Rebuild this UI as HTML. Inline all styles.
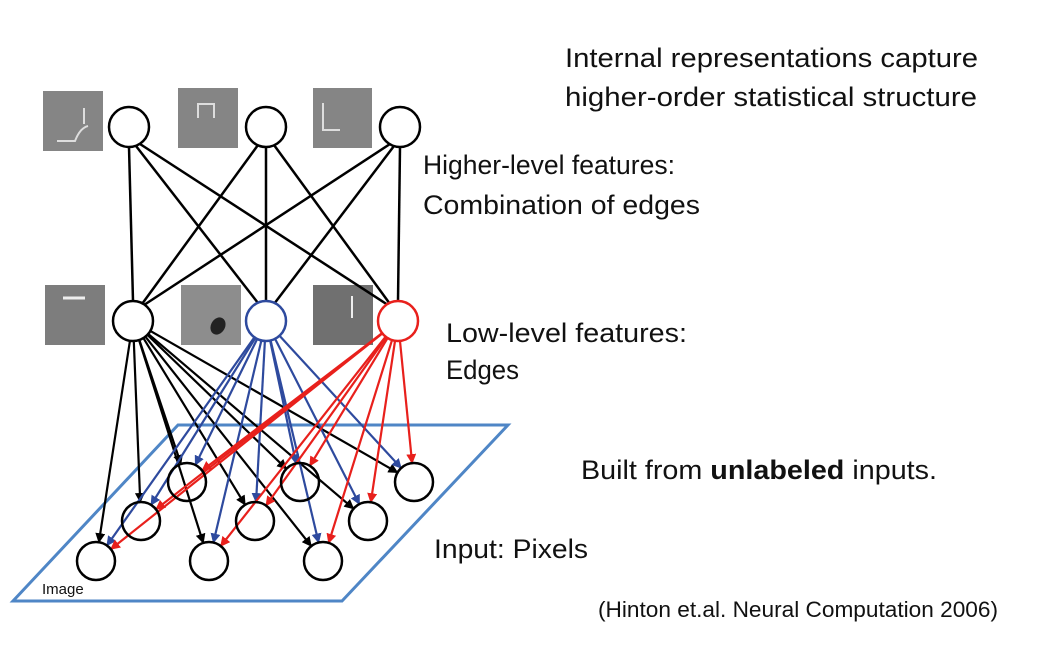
<!DOCTYPE html>
<html><head><meta charset="utf-8"><style>
html,body{margin:0;padding:0;background:#fff;}
svg{display:block}
text{font-family:"Liberation Sans",sans-serif;fill:#111}
</style></head><body>
<svg width="1044" height="664" viewBox="0 0 1044 664" xmlns="http://www.w3.org/2000/svg">
<defs>
<marker id="ak" markerWidth="10" markerHeight="10" refX="9" refY="5" orient="auto" markerUnits="userSpaceOnUse"><path d="M0,0 L10,5 L0,10 z" fill="#000"/></marker>
<marker id="ab" markerWidth="10" markerHeight="10" refX="9" refY="5" orient="auto" markerUnits="userSpaceOnUse"><path d="M0,0 L10,5 L0,10 z" fill="#2e4a9e"/></marker>
<marker id="ar" markerWidth="10" markerHeight="10" refX="9" refY="5" orient="auto" markerUnits="userSpaceOnUse"><path d="M0,0 L10,5 L0,10 z" fill="#e8201c"/></marker>
</defs>
<polygon points="178,425 508,425 342,601 13,601" fill="none" stroke="#4f86c6" stroke-width="3"/>
<text x="42" y="594" font-size="15">Image</text>
<g>
<rect x="43" y="91" width="60" height="60" fill="#858585"/><path d="M57,141 L75,141 Q80,128 88,126 M84,108 L84,124" stroke="#ddd" stroke-width="2" fill="none"/>
<rect x="178" y="88" width="60" height="60" fill="#858585"/><path d="M198,118 L198,104 L214,104 L214,118" stroke="#ddd" stroke-width="2" fill="none"/>
<rect x="313" y="88" width="59" height="60" fill="#858585"/><path d="M323,103 L323,130 L340,130" stroke="#ddd" stroke-width="2" fill="none"/>
<rect x="45" y="285" width="60" height="60" fill="#7d7d7d"/><path d="M63,298 L85,298" stroke="#eee" stroke-width="3"/>
<rect x="181" y="285" width="60" height="60" fill="#8d8d8d"/><ellipse cx="218" cy="326" rx="7" ry="9" fill="#222" transform="rotate(30 218 326)"/>
<rect x="313" y="285" width="60" height="60" fill="#707070"/><path d="M352,296 L352,318" stroke="#eee" stroke-width="2"/>
</g>
<g stroke="#000" stroke-width="2.5">
<line x1="129" y1="147" x2="133" y2="301"/><line x1="136" y1="146" x2="258" y2="303"/><line x1="140" y1="144" x2="388" y2="305"/>
<line x1="258" y1="145" x2="142" y2="304"/><line x1="266" y1="147" x2="266" y2="301"/><line x1="274" y1="145" x2="390" y2="304"/>
<line x1="390" y1="144" x2="144" y2="305"/><line x1="394" y1="146" x2="274" y2="304"/><line x1="400" y1="147" x2="398" y2="301"/>
</g>
<g id="arrows"></g>
<g fill="#fff" stroke-width="2.5">
<circle cx="129" cy="127" r="20" stroke="#000"/><circle cx="266" cy="127" r="20" stroke="#000"/><circle cx="400" cy="127" r="20" stroke="#000"/>
<circle cx="133" cy="321" r="20" stroke="#000"/><circle cx="266" cy="321" r="20" stroke="#2e4a9e"/><circle cx="398" cy="321" r="20" stroke="#e8201c"/>
</g>
<g fill="none" stroke="#000" stroke-width="2.5">
<circle cx="187" cy="482" r="19"/><circle cx="300" cy="482" r="19"/><circle cx="414" cy="482" r="19"/>
<circle cx="141" cy="521" r="19"/><circle cx="255" cy="521" r="19"/><circle cx="368" cy="521" r="19"/>
<circle cx="96" cy="561" r="19"/><circle cx="209" cy="561" r="19"/><circle cx="323" cy="561" r="19"/>
</g>
<g font-size="27">
<text x="565" y="67" textLength="413" lengthAdjust="spacingAndGlyphs">Internal representations capture</text>
<text x="565" y="106" textLength="412" lengthAdjust="spacingAndGlyphs">higher-order statistical structure</text>
<text x="423" y="174" textLength="252" lengthAdjust="spacingAndGlyphs">Higher-level features:</text>
<text x="423" y="214" textLength="277" lengthAdjust="spacingAndGlyphs">Combination of edges</text>
<text x="446" y="342" textLength="241" lengthAdjust="spacingAndGlyphs">Low-level features:</text>
<text x="446" y="379" textLength="73" lengthAdjust="spacingAndGlyphs">Edges</text>
<text x="581" y="479" textLength="356" lengthAdjust="spacingAndGlyphs">Built from <tspan font-weight="bold">unlabeled</tspan> inputs.</text>
<text x="434" y="558" textLength="154" lengthAdjust="spacingAndGlyphs">Input: Pixels</text>
</g>
<text x="598" y="617" font-size="22" textLength="400" lengthAdjust="spacingAndGlyphs">(Hinton et.al. Neural Computation 2006)</text>
</svg>
<script>
(function(){
var mids=[[133,321,'#000','ak'],[266,321,'#2e4a9e','ab'],[398,321,'#e8201c','ar']];
var pix=[[187,482],[300,482],[414,482],[141,521],[255,521],[368,521],[96,561],[209,561],[323,561]];
var g=document.getElementById('arrows'),ns='http://www.w3.org/2000/svg';
mids.forEach(function(m){pix.forEach(function(p){
var dx=p[0]-m[0],dy=p[1]-m[1],d=Math.sqrt(dx*dx+dy*dy);
var l=document.createElementNS(ns,'line');
l.setAttribute('x1',m[0]+dx/d*20);l.setAttribute('y1',m[1]+dy/d*20);
l.setAttribute('x2',p[0]-dx/d*19);l.setAttribute('y2',p[1]-dy/d*19);
l.setAttribute('stroke',m[2]);l.setAttribute('stroke-width','2.2');
l.setAttribute('marker-end','url(#'+m[3]+')');g.appendChild(l);});});
})();
</script>
</body></html>
